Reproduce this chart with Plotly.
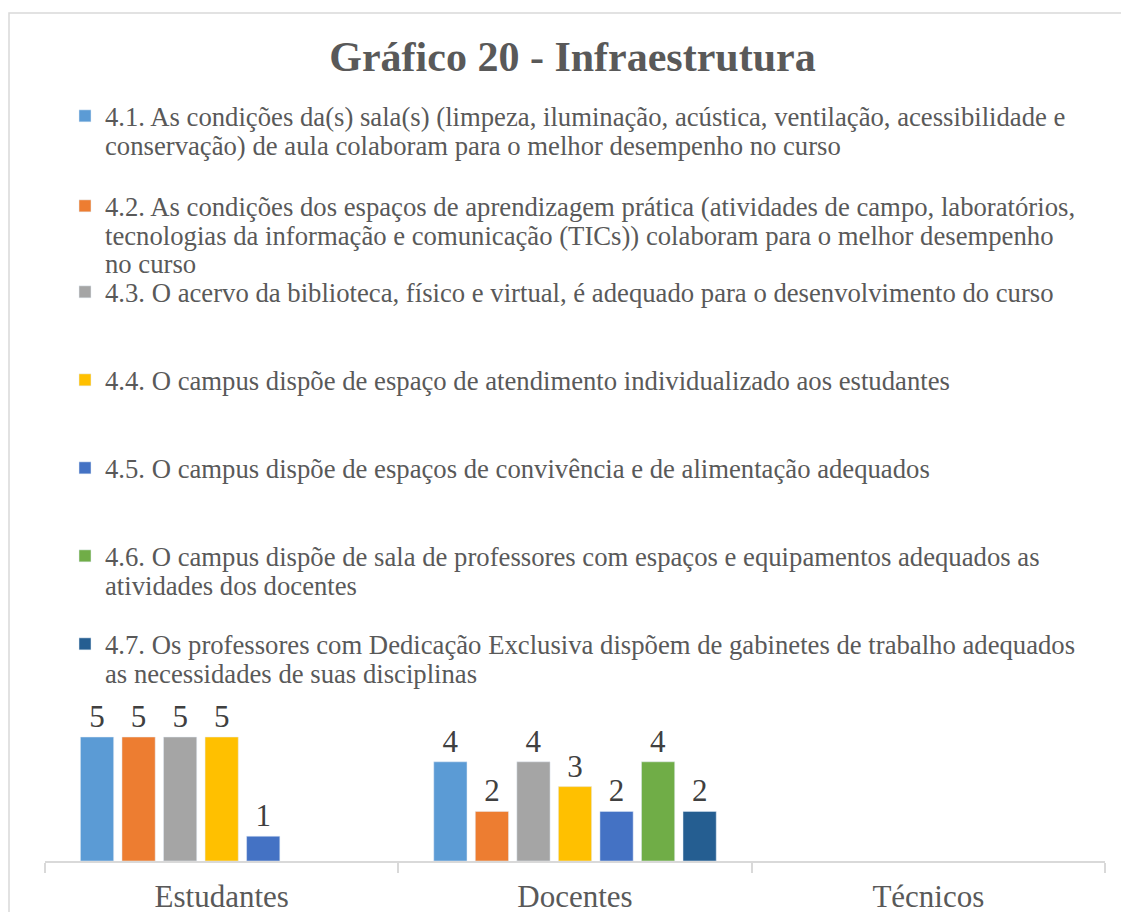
import plotly.graph_objects as go

categories = ["Estudantes", "Docentes", "Técnicos"]

# legend labels, one list of text lines per series (as wrapped in the original)
series_lines = [
    ["4.1. As condições da(s) sala(s) (limpeza, iluminação, acústica, ventilação, acessibilidade e",
     "conservação) de aula colaboram para o melhor desempenho no curso"],
    ["4.2. As condições dos espaços de aprendizagem prática (atividades de campo, laboratórios,",
     "tecnologias da informação e comunicação (TICs)) colaboram para o melhor desempenho",
     "no curso"],
    ["4.3. O acervo da biblioteca, físico e virtual, é adequado para o desenvolvimento do curso"],
    ["4.4. O campus dispõe de espaço de atendimento individualizado aos estudantes"],
    ["4.5. O campus dispõe de espaços de convivência e de alimentação adequados"],
    ["4.6. O campus dispõe de sala de professores com espaços e equipamentos adequados as",
     "atividades dos docentes"],
    ["4.7. Os professores com Dedicação Exclusiva dispõem de gabinetes de trabalho adequados",
     "as necessidades de suas disciplinas"],
]

s41 = [5, 4, None]
s42 = [5, 2, None]
s43 = [5, 4, None]
s44 = [5, 3, None]
s45 = [1, 2, None]
s46 = [None, 4, None]
s47 = [None, 2, None]
series_values = [s41, s42, s43, s44, s45, s46, s47]

colors = ["#5B9BD5", "#ED7D31", "#A5A5A5", "#FFC000", "#4472C4", "#70AD47", "#255E91"]

FONT = "Liberation Serif, Times New Roman, serif"
TEXT = "#595959"
LEG_SIZE = 26.7

W, H = 1129, 912
OFF = 8  # page body margin offset in the screenshot
# plot area in figure pixels
PL, PR, PT, PB = 37, 1097, 682, 853
PW, PH = PR - PL, PB - PT
UNIT = 24.8

legend_line_centers = [118, 208, 294, 382, 470, 558, 646]  # screen px
LINE_STEP = 28
TEXT_X = 105  # screen px, start of legend text


def px_to_paper_x(sx):
    return (sx - OFF - PL) / PW


def px_to_paper_y(sy):
    return (PB - (sy - OFF)) / PH


fig = go.Figure()
for i, (lines, vals, col) in enumerate(zip(series_lines, series_values, colors)):
    lg = "legend" if i == 0 else f"legend{i+1}"
    fig.add_trace(go.Bar(
        x=categories, y=vals, name=lines[0], marker_color=col,
        text=[("" if v is None else str(v)) for v in vals],
        textposition="outside", cliponaxis=False, constraintext="none",
        textfont=dict(family=FONT, size=31, color="#404040"),
        legend=lg, hoverinfo="skip",
    ))

layout_legends = {}
annotations = []
for i, c in enumerate(legend_line_centers):
    key = "legend" if i == 0 else f"legend{i+1}"
    layout_legends[key] = dict(
        xref="container", yref="container",
        x=(TEXT_X - 48) / W, y=1 - (c - 34) / H, xanchor="left", yanchor="top",
        valign="top",
        font=dict(family=FONT, size=LEG_SIZE, color=TEXT),
        bgcolor="rgba(0,0,0,0)", borderwidth=0,
        itemclick=False, itemdoubleclick=False,
    )
    for k, extra in enumerate(series_lines[i][1:], start=1):
        annotations.append(dict(
            text=extra, xref="paper", yref="paper",
            x=px_to_paper_x(TEXT_X - 2), y=px_to_paper_y(c + LINE_STEP * k),
            xanchor="left", yanchor="middle", showarrow=False,
            font=dict(family=FONT, size=LEG_SIZE, color=TEXT),
        ))

fig.update_layout(
    width=W, height=H,
    paper_bgcolor="white", plot_bgcolor="white",
    margin=dict(l=PL, r=W - PR, t=PT, b=H - PB, autoexpand=False),
    title=dict(text="<b>Gráfico 20 - Infraestrutura</b>", x=0.5, xanchor="center",
               y=1 - 48 / H, yanchor="middle",
               font=dict(family=FONT, size=42, color=TEXT)),
    barmode="group", bargap=0.177, bargroupgap=0.2,
    xaxis=dict(showline=True, linecolor="#D9D9D9", linewidth=1.5,
               ticks="outside", tickson="boundaries", ticklen=10, tickcolor="#D9D9D9",
               tickwidth=1.5, showgrid=False, tickangle=0, automargin=False,
               ticklabelstandoff=7,
               tickfont=dict(family=FONT, size=31, color=TEXT)),
    yaxis=dict(visible=False, range=[0, PH / UNIT]),
    annotations=annotations,
    shapes=[dict(type="rect", xref="paper", yref="paper",
                 x0=(1 - PL) / PW, x1=(1140 - PL) / PW,
                 y0=(PB - 940) / PH, y1=(PB - 5) / PH,
                 line=dict(color="#D9D9D9", width=1.5), fillcolor="rgba(0,0,0,0)", layer="below")],
    showlegend=True,
    **layout_legends,
)

fig.write_html("out.html")
